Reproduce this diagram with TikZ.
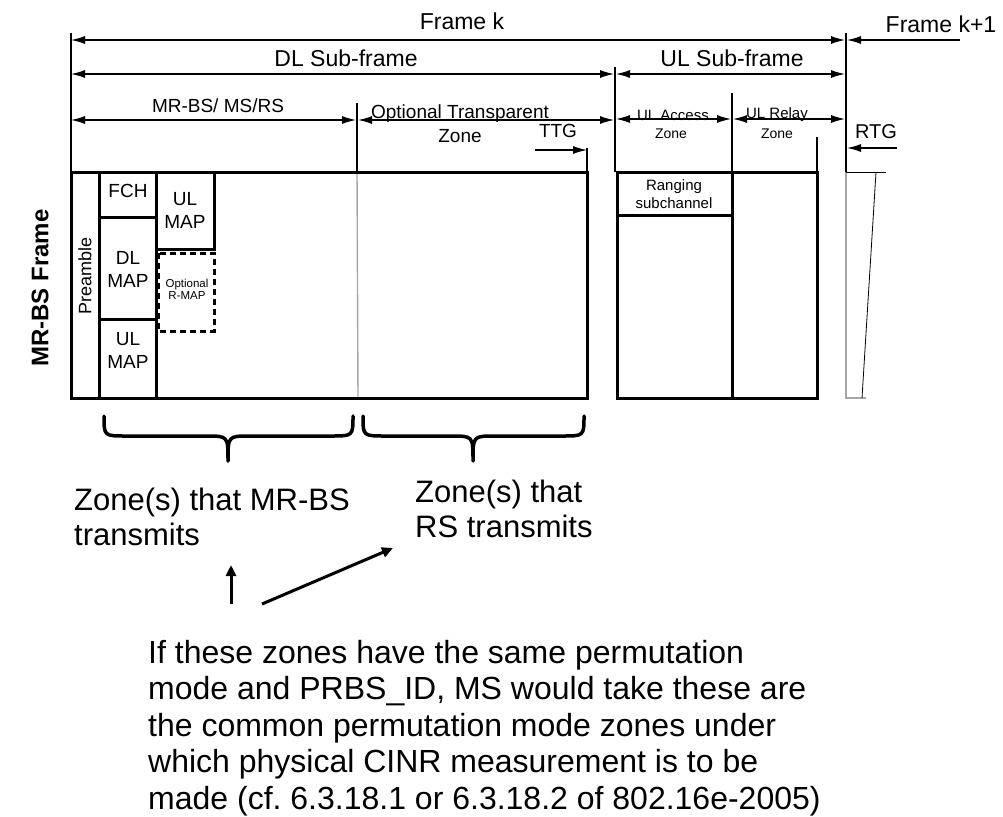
\documentclass[tikz,border=0pt]{standalone}
\usepackage{fontspec}
\setmainfont{Liberation Sans}
\usetikzlibrary{arrows.meta}
\newcommand{\fsz}[2]{\fontsize{#1}{#2}\selectfont}
\frenchspacing
\begin{document}
\begin{tikzpicture}[x=1pt,y=-1pt,
  dimline/.style={line width=1.2pt,{Latex[length=14pt,width=8pt]}-{Latex[length=14pt,width=8pt]}},
  onearrow/.style={line width=1.2pt,-{Latex[length=14pt,width=8pt]}},
  guide/.style={line width=1.2pt},
  heavy/.style={line width=3pt},
  greyline/.style={line width=1.4pt,black!35},
  lbl/.style={inner sep=0pt},
  bigarrow/.style={line width=3pt,-{Triangle[length=11pt,width=10pt]}},
  bracecurve/.style={line width=3.5pt,line cap=round,line join=round}]
\useasboundingbox (0,0) rectangle (1003,816);

% ---------- guide lines ----------
\coordinate (g0a) at (71,33);   \coordinate (g0b) at (71,172);
\coordinate (g1a) at (846,33);  \coordinate (g1b) at (846,172);
\coordinate (g2a) at (615,67);  \coordinate (g2b) at (615,172);
\coordinate (g3a) at (357,103); \coordinate (g3m) at (357,172); \coordinate (g3b) at (358,398);
\coordinate (g4a) at (732,93);  \coordinate (g4b) at (732,172);
\coordinate (g5a) at (817,137); \coordinate (g5b) at (817,172);
\coordinate (g6a) at (587,148); \coordinate (g6b) at (587,172);
\draw[guide] (g0a) -- (g0b);
\draw[guide] (g1a) -- (g1b);
\draw[guide] (g2a) -- (g2b);
\draw[guide] (g3a) -- (g3m);
\draw[greyline] (g3m) -- (g3b);
\draw[guide] (g4a) -- (g4b);
\draw[guide] (g5a) -- (g5b);
\draw[guide] (g6a) -- (g6b);

% ---------- dimension arrows ----------
\coordinate (fkL) at (71,40);   \coordinate (fkR) at (845,40);
\coordinate (fk1a) at (960,40); \coordinate (fk1b) at (847,40);
\coordinate (dlL) at (71,74);   \coordinate (dlR) at (614,74);
\coordinate (ulL) at (616,74);  \coordinate (ulR) at (845,74);
\coordinate (msL) at (71,120);  \coordinate (msR) at (356,120);
\coordinate (otL) at (358,120); \coordinate (otR) at (614,120);
\coordinate (uaL) at (616,119); \coordinate (uaR) at (731,119);
\coordinate (urL) at (733,119); \coordinate (urR) at (845,119);
\coordinate (ttgA) at (535,150); \coordinate (ttgB) at (587,150);
\coordinate (rtgA) at (897,148); \coordinate (rtgB) at (847,148);
\draw[dimline] (fkL) -- (fkR);
\draw[onearrow] (fk1a) -- (fk1b);
\draw[dimline] (dlL) -- (dlR);
\draw[dimline] (ulL) -- (ulR);
\draw[dimline] (msL) -- (msR);
\draw[dimline] (otL) -- (otR);
\draw[dimline] (uaL) -- (uaR);
\draw[dimline] (urL) -- (urR);
\draw[onearrow] (ttgA) -- (ttgB);
\draw[onearrow] (rtgA) -- (rtgB);

% ---------- top labels ----------
\node[lbl,font=\fsz{23}{27}] (tFk) at (462,21) {Frame k};
\node[lbl,font=\fsz{23}{27}] (tFk1) at (941,24) {Frame k+1};
\node[lbl,font=\fsz{23}{27}] (tDL) at (346,58) {DL Sub-frame};
\node[lbl,font=\fsz{23}{27}] (tUL) at (732,58) {UL Sub-frame};
\node[lbl,font=\fsz{19}{22}] (tMS) at (218,106) {MR-BS/ MS/RS};
\node[lbl,font=\fsz{19}{22}] (tOT) at (460,114) {Optional Transparent};
\node[lbl,font=\fsz{19}{22}] (tOTz) at (460,136) {Zone};
\node[lbl,font=\fsz{19}{22}] (tTTG) at (558,131) {TTG};
\node[lbl,font=\fsz{15}{18}] (tUA) at (673,115) {UL Access};
\node[lbl,font=\fsz{14}{17}] (tUAz) at (671,134) {Zone};
\node[lbl,font=\fsz{15}{18}] (tUR) at (777,115) {UL Relay};
\node[lbl,font=\fsz{14}{17}] (tURz) at (777,134) {Zone};
\node[lbl,font=\fsz{20}{24}] (tRTG) at (876,132) {RTG};

% ---------- MR-BS frame (DL part) ----------
\draw[heavy] (71,172) rectangle (587,398);
\draw[heavy] (99,172) -- (99,398);
\draw[heavy] (156,172) -- (156,398);
\draw[heavy] (99,217) -- (156,217);
\draw[heavy] (99,319) -- (156,319);
\draw[heavy] (156,249) -- (214,249) -- (214,172);
\draw[heavy,dash pattern=on 6pt off 4pt] (158,253) rectangle (214,331);
\node[lbl,rotate=90,font=\fsz{18}{21}] (tPre) at (85,276) {Preamble};
\node[lbl,font=\fsz{19}{22}] (tFCH) at (128,191) {FCH};
\node[lbl,font=\fsz{19}{23},align=center] (tDLM) at (128,269) {DL\\MAP};
\node[lbl,font=\fsz{19}{23},align=center] (tULM1) at (128,350) {UL\\MAP};
\node[lbl,font=\fsz{19}{23},align=center] (tULM2) at (185,210) {UL\\MAP};
\node[lbl,font=\fsz{11.5}{12},align=center] (tRM) at (187,289) {Optional\\R-MAP};

% ---------- UL part ----------
\draw[heavy] (617,172) rectangle (817,398);
\draw[heavy] (732,172) -- (732,398);
\draw[heavy] (617,215) -- (732,215);
\node[lbl,font=\fsz{15}{18},align=center] (tRng) at (674,194) {Ranging\\subchannel};

% ---------- next frame (cut) ----------
\draw[greyline] (846,172) -- (846,398) -- (866,398);
\draw[line width=1pt] (846,172) -- (886,172);
\draw[line width=0.8pt] (876,172) -- (862,398);

% ---------- side label ----------
\node[lbl,rotate=90,font=\bfseries\fsz{24}{28}] (tSide) at (40,288) {MR-BS Frame};

% ---------- braces ----------
\draw[bracecurve] (104,416) .. controls (104,436) .. (126,436) -- (206,436)
  .. controls (228,436) .. (228,461) .. controls (228,436) .. (250,436)
  -- (331,436) .. controls (353,436) .. (353,416);
\draw[bracecurve] (363,416) .. controls (363,436) .. (385,436) -- (451,436)
  .. controls (473,436) .. (473,461) .. controls (473,436) .. (495,436)
  -- (562,436) .. controls (584,436) .. (584,416);

\node[lbl,anchor=north west,align=left,font=\fsz{31}{35}] (zMR) at (74,488) {Zone(s) that MR-BS\\transmits};
\node[lbl,anchor=north west,align=left,font=\fsz{31}{35}] (zRS) at (415,480) {Zone(s) that\\RS transmits};

\node[lbl,anchor=north west,align=left,font=\fsz{32}{36.5}] (note) at (148,640) {If these zones have the same permutation\\mode and PRBS\_ID, MS would take these are\\the common permutation mode zones under\\which physical CINR measurement is to be\\made (cf. 6.3.18.1 or 6.3.18.2 of 802.16e-2005)};

\coordinate (a1s) at (231,604); \coordinate (a1e) at (231,565);
\coordinate (a2s) at (262,604); \coordinate (a2e) at (393,548);
\draw[bigarrow] (a1s) -- (a1e);
\draw[bigarrow] (a2s) -- (a2e);
\end{tikzpicture}
\end{document}
